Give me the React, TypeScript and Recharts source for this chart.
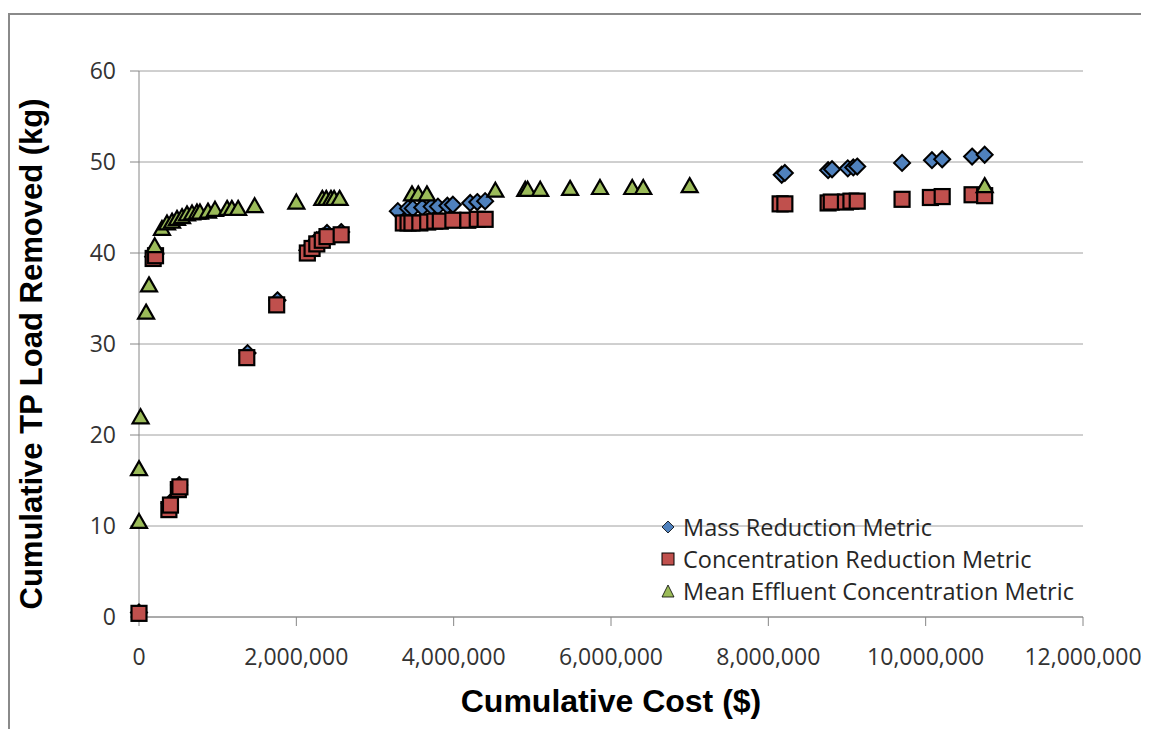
import React from "react";
import {
  ScatterChart,
  Scatter,
  XAxis,
  YAxis,
  CartesianGrid,
  Legend,
} from "recharts";

// Cumulative cost ($) and cumulative TP load removed (kg) per metric
const massCost = [
  0, 180000, 210000, 390000, 510000, 1380000, 1760000, 2140000, 2200000, 2260000,
  2330000, 2390000, 2570000, 3290000, 3420000, 3480000, 3600000, 3720000, 3800000,
  3920000, 3990000, 4210000, 4300000, 4400000, 8170000, 8210000, 8760000, 8810000,
  9010000, 9080000, 9130000, 9700000, 10080000, 10210000, 10590000, 10750000,
];
const massLoad = [
  0.5, 39.6, 39.9, 12.5, 14.5, 29.0, 34.8, 40.3, 40.8, 41.4,
  41.8, 42.2, 42.3, 44.6, 44.9, 44.9, 45.0, 45.1, 45.1,
  45.2, 45.3, 45.5, 45.6, 45.7, 48.6, 48.8, 49.1, 49.2,
  49.3, 49.4, 49.5, 49.9, 50.2, 50.3, 50.6, 50.8,
];

const concCost = [
  0, 180000, 210000, 380000, 400000, 500000, 520000, 1370000, 1750000, 2140000,
  2200000, 2260000, 2330000, 2390000, 2570000, 3360000, 3420000, 3470000, 3570000,
  3670000, 3760000, 3830000, 3990000, 4180000, 4300000, 4400000, 8150000, 8210000,
  8760000, 8800000, 8980000, 9050000, 9130000, 9700000, 10060000, 10210000,
  10590000, 10750000,
];
const concLoad = [
  0.4, 39.4, 39.7, 11.8, 12.3, 14.0, 14.3, 28.5, 34.3, 40.0,
  40.5, 41.0, 41.4, 41.8, 42.0, 43.3, 43.3, 43.3, 43.3,
  43.4, 43.5, 43.5, 43.6, 43.6, 43.7, 43.7, 45.4, 45.4,
  45.5, 45.6, 45.6, 45.7, 45.7, 45.9, 46.1, 46.2,
  46.4, 46.3,
];

const meanCost = [
  0, 0, 20000, 90000, 127000, 200000, 292000, 356000, 420000, 483000,
  547000, 610000, 674000, 737000, 775000, 877000, 966000, 1120000, 1180000,
  1260000, 1470000, 2000000, 2330000, 2380000, 2440000, 2480000, 2550000,
  3470000, 3550000, 3660000, 4530000, 4910000, 4940000, 5100000, 5480000,
  5860000, 6270000, 6410000, 7000000, 10750000,
];
const meanLoad = [
  10.5, 16.3, 22.0, 33.5, 36.5, 40.8, 42.7, 43.3, 43.5, 43.8,
  44.0, 44.3, 44.4, 44.5, 44.5, 44.6, 44.8, 44.9, 44.9,
  44.9, 45.2, 45.6, 46.0, 46.0, 46.0, 46.0, 46.0,
  46.5, 46.5, 46.5, 46.9, 47.0, 47.0, 47.0, 47.1,
  47.2, 47.2, 47.2, 47.4, 47.4,
];

const xTicks = [0, 2000000, 4000000, 6000000, 8000000, 10000000, 12000000];
const yTicks = [0, 10, 20, 30, 40, 50, 60];

const seriesNames = [
  "Mass Reduction Metric",
  "Concentration Reduction Metric",
  "Mean Effluent Concentration Metric",
];

const BLUE = "#4F81BD";
const RED = "#C0504D";
const GREEN = "#9BBB59";
const AXIS = "#868686";
const FONT = "'Open Sans', sans-serif";
const TITLE_FONT = "'Liberation Sans', Arial, sans-serif";

const toPoints = (xs: number[], ys: number[]) => xs.map((x, i) => ({ x, y: ys[i] }));

const massData = toPoints(massCost, massLoad);
const concData = toPoints(concCost, concLoad);
const meanData = toPoints(meanCost, meanLoad);

const DiamondMark = ({ cx, cy }: any) => (
  <path
    d={`M${cx},${cy - 8}L${cx + 8},${cy}L${cx},${cy + 8}L${cx - 8},${cy}Z`}
    fill={BLUE}
    stroke="#000"
    strokeWidth={2}
  />
);

const SquareMark = ({ cx, cy }: any) => (
  <rect x={cx - 7.5} y={cy - 7.5} width={15} height={15} fill={RED} stroke="#000" strokeWidth={2.2} />
);

const TriangleMark = ({ cx, cy }: any) => (
  <path
    d={`M${cx},${cy - 7.5}L${cx + 8},${cy + 6.5}L${cx - 8},${cy + 6.5}Z`}
    fill={GREEN}
    stroke="#000"
    strokeWidth={2.2}
  />
);

const legendIcons = [
  <path key="d" d="M8,2L14,8L8,14L2,8Z" fill={BLUE} stroke="#000" strokeWidth={0.8} />,
  <rect key="s" x={2} y={2} width={12} height={12} fill={RED} stroke="#000" strokeWidth={1} />,
  <path key="t" d="M8,2L14,14L2,14Z" fill={GREEN} stroke="#000" strokeWidth={0.8} />,
];

const renderLegend = () => (
  <div style={{ fontFamily: FONT, fontSize: 23.5, color: "#262626" }}>
    {seriesNames.map((name, i) => (
      <div key={name} style={{ display: "flex", alignItems: "center", height: 32 }}>
        <svg width={16} height={16} style={{ marginRight: 7 }}>
          {legendIcons[i]}
        </svg>
        <span style={{ whiteSpace: "nowrap" }}>{name}</span>
      </div>
    ))}
  </div>
);

const YTitle = ({ viewBox }: any) => {
  const x = viewBox.x + 17;
  const y = viewBox.y + viewBox.height / 2 + 10;
  return (
    <text
      x={x}
      y={y}
      transform={`rotate(-90, ${x}, ${y})`}
      textAnchor="middle"
      dominantBaseline="central"
      style={{ fontFamily: TITLE_FONT, fontWeight: 700, fontSize: 31, fill: "#000" }}
    >
      Cumulative TP Load Removed (kg)
    </text>
  );
};

const XTitle = ({ viewBox }: any) => {
  const x = viewBox.x + viewBox.width / 2;
  const y = viewBox.y + 95;
  return (
    <text
      x={x}
      y={y}
      textAnchor="middle"
      style={{ fontFamily: TITLE_FONT, fontWeight: 700, fontSize: 32, fill: "#000" }}
    >
      Cumulative Cost ($)
    </text>
  );
};

export default function App() {
  return (
    <div style={{ position: "relative", width: 1141, height: 721, fontFamily: FONT }}>
      <div
        style={{
          position: "absolute",
          left: 0,
          top: 5,
          right: -20,
          bottom: -20,
          borderTop: "2px solid #8a8a8a",
          borderLeft: "2px solid #8a8a8a",
        }}
      />
      <ScatterChart
        width={1141}
        height={721}
        margin={{ top: 63, right: 66, bottom: 2, left: 6 }}
      >
        <CartesianGrid vertical={false} stroke="#a0a0a0" />
        <XAxis
          type="number"
          dataKey="x"
          domain={[0, 12000000]}
          ticks={xTicks}
          interval={0}
          height={110}
          tickSize={9}
          tickMargin={23}
          axisLine={{ stroke: AXIS }}
          tickLine={{ stroke: AXIS }}
          tick={{ fill: "#333", fontSize: 23 }}
          tickFormatter={(v) => Number(v).toLocaleString("en-US")}
          label={{ content: <XTitle /> }}
        />
        <YAxis
          type="number"
          dataKey="y"
          domain={[0, 60]}
          ticks={yTicks}
          interval={0}
          width={125}
          tickSize={9}
          tickMargin={14}
          axisLine={{ stroke: AXIS }}
          tickLine={{ stroke: AXIS }}
          tick={{ fill: "#333", fontSize: 23 }}
          label={{ content: <YTitle /> }}
        />
        <Legend
          layout="vertical"
          align="center"
          verticalAlign="middle"
          wrapperStyle={{ left: 652, top: 503, width: 460 }}
          content={renderLegend}
        />
        <Scatter name={seriesNames[0]} data={massData} shape={<DiamondMark />} isAnimationActive={false} />
        <Scatter name={seriesNames[1]} data={concData} shape={<SquareMark />} isAnimationActive={false} />
        <Scatter name={seriesNames[2]} data={meanData} shape={<TriangleMark />} isAnimationActive={false} />
      </ScatterChart>
    </div>
  );
}
